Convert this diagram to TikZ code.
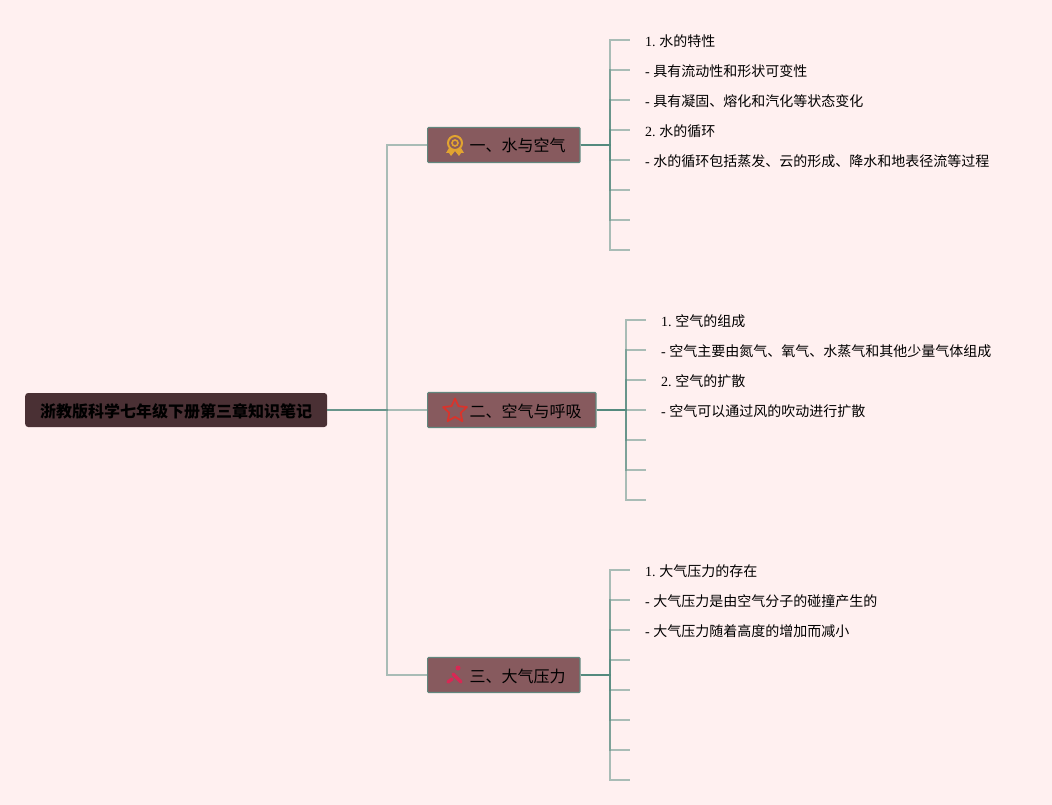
\documentclass[tikz,border=0pt]{standalone}
\usepackage{fontspec}
\setmainfont{Liberation Serif}
\newfontfamily\cjk{Noto Sans CJK SC}
\usetikzlibrary{shapes.geometric}
\definecolor{paper}{RGB}{255,240,240}
\definecolor{rootfill}{RGB}{74,48,52}
\definecolor{branchfill}{RGB}{135,90,94}
\definecolor{linkgreen}{RGB}{84,138,126}
\definecolor{medal}{RGB}{226,164,48}
\definecolor{starred}{RGB}{216,52,44}
\definecolor{toolred}{RGB}{216,40,84}
\tikzset{
  rootbox/.style={draw=none,fill=rootfill,rounded corners=3pt,anchor=west,minimum width=302pt,minimum height=34pt,inner sep=0pt,text height=16pt,text depth=2pt,font=\fontsize{16}{18}\selectfont\cjk\bfseries},
  branchbox/.style={draw=linkgreen!70!gray,line width=1.2pt,fill=branchfill,rounded corners=1pt,anchor=west,minimum height=35pt,inner xsep=14.4pt,inner ysep=0pt,text height=16pt,text depth=2pt,font=\fontsize{16}{18}\selectfont\cjk},
  leaf/.style={anchor=west,inner xsep=15pt,inner ysep=0pt,text height=14pt,text depth=1.4pt,font=\fontsize{14}{16}\selectfont},
  link/.style={draw=linkgreen,draw opacity=0.5,line width=1.5pt}
}
\newcommand{\leaftext}[2]{{\rmfamily{#1} }{\cjk #2}}
\begin{document}
\begin{tikzpicture}[x=1pt,y=-1pt]
    \useasboundingbox (0,0) rectangle (1052,805);
    \fill[paper] (0,0) rectangle (1052,805);
    % root and the three chapters
    \node[rootbox] (root) at (25,410) {浙教版科学七年级下册第三章知识笔记};
    \node[branchbox] (water) at (427,145) {\hspace*{27.5pt}一、水与空气};
    \node[branchbox] (air) at (427,410) {\hspace*{27.5pt}二、空气与呼吸};
    \node[branchbox] (press) at (427,675) {\hspace*{27.5pt}三、大气压力};
    \coordinate (rootfork) at (387,410);
    \foreach \b in {water,air,press}{
      \draw[link] (root.east) -- (rootfork) |- (\b.west);
    }
    % leaves of the first chapter
    \coordinate (waterfork) at (610,145);
    \foreach \n/\y/\num/\lab in {1/40/1.\kern-1pt/水的特性,2/70/-/具有流动性和形状可变性,3/100/-/具有凝固、熔化和汽化等状态变化,4/130/2.\kern-1pt/水的循环,5/160/-/水的循环包括蒸发、云的形成、降水和地表径流等过程}{
      \node[leaf] (water\n) at (630,\y) {\leaftext{\num}{\lab}};
      \draw[link] (water.east) -- (waterfork) |- (water\n.west);
    }
    \foreach \n/\y in {6/190,7/220,8/250}{
      \coordinate (water\n) at (630,\y);
      \draw[link] (water.east) -- (waterfork) |- (water\n);
    }
    % leaves of the second chapter
    \coordinate (airfork) at (626,410);
    \foreach \n/\y/\num/\lab in {1/320/1.\kern-1pt/空气的组成,2/350/-/空气主要由氮气、氧气、水蒸气和其他少量气体组成,3/380/2.\kern-1pt/空气的扩散,4/410/-/空气可以通过风的吹动进行扩散}{
      \node[leaf] (air\n) at (646,\y) {\leaftext{\num}{\lab}};
      \draw[link] (air.east) -- (airfork) |- (air\n.west);
    }
    \foreach \n/\y in {5/440,6/470,7/500}{
      \coordinate (air\n) at (646,\y);
      \draw[link] (air.east) -- (airfork) |- (air\n);
    }
    % leaves of the third chapter
    \coordinate (pressfork) at (610,675);
    \foreach \n/\y/\num/\lab in {1/570/1.\kern-1pt/大气压力的存在,2/600/-/大气压力是由空气分子的碰撞产生的,3/630/-/大气压力随着高度的增加而减小}{
      \node[leaf] (press\n) at (630,\y) {\leaftext{\num}{\lab}};
      \draw[link] (press.east) -- (pressfork) |- (press\n.west);
    }
    \foreach \n/\y in {4/660,5/690,6/720,7/750,8/780}{
      \coordinate (press\n) at (630,\y);
      \draw[link] (press.east) -- (pressfork) |- (press\n);
    }
    % icons
    \draw[medal,line width=2pt] (455,143) circle (7);
    \draw[medal,line width=1.6pt] (455,143) circle (3);
    \fill[medal] (449,148) -- (446,153) -- (449,153) -- (451,156) -- (455,151) -- cycle;
    \fill[medal] (461,148) -- (464,153) -- (461,153) -- (459,156) -- (455,151) -- cycle;
    \node[star,star points=5,star point ratio=2.1,draw=starred,line width=1.8pt,line join=round,minimum size=25pt,inner sep=0pt] (staricon) at (455,411) {};
    \fill[toolred] (458,668) circle (2.5);
    \draw[toolred,line width=3.4pt,line cap=round] (453,674) -- (461,682);
    \draw[toolred,line width=3.4pt,line cap=round] (448,682) -- (452,679);
\end{tikzpicture}
\end{document}
